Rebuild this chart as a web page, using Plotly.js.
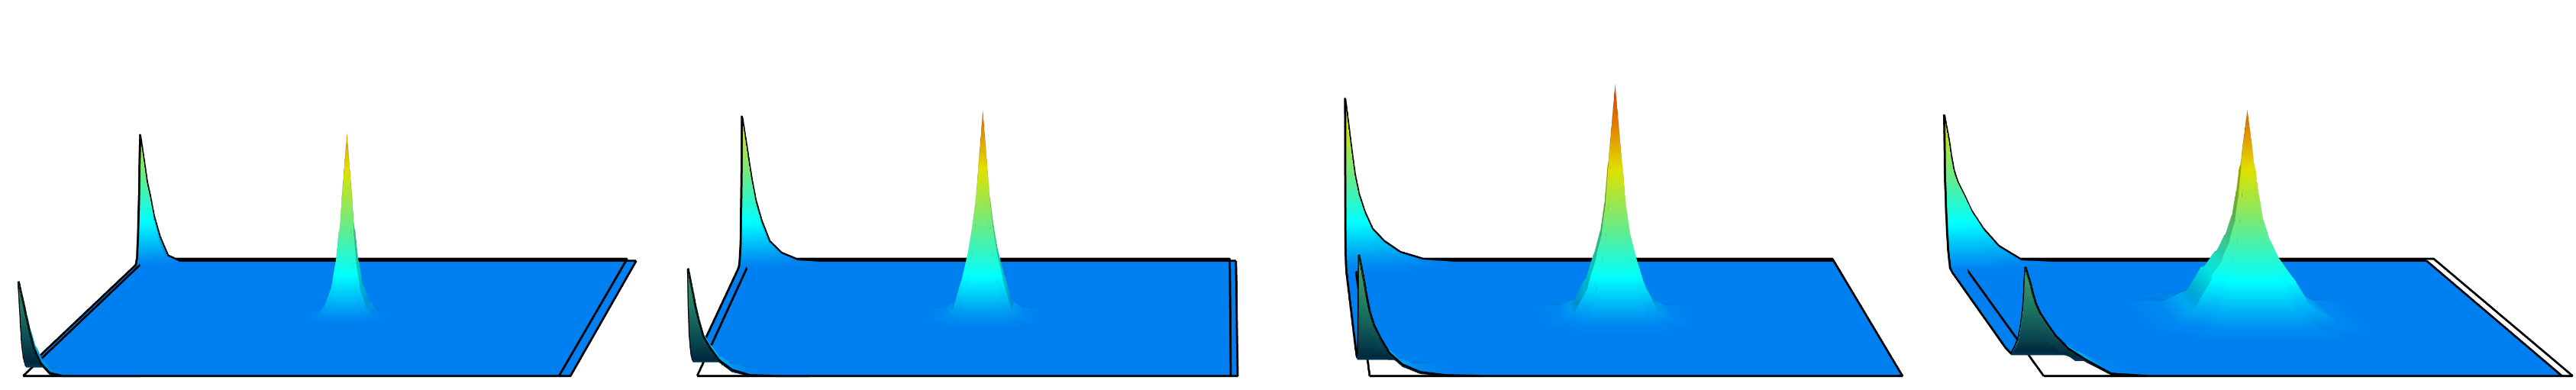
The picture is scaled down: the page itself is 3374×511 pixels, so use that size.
<!DOCTYPE html>
<html><head><meta charset="utf-8">
<script src="https://cdn.plot.ly/plotly-3.0.1.min.js"></script>
<style>html,body{margin:0;padding:0;background:#fff;overflow:hidden;width:3374px;height:511px}
#plot{position:absolute;left:-174px;top:-2511px;width:3548px;height:3022px}</style>
</head><body><div id="plot"></div><script>
// radial steps away from a peak, as a fraction of the sheet width
var steps = [0,.01,.014,.02,.028,.04,.056,.08,.113,.16,.226];
// heights at each step (px at the front plane)
var p1Center = [253,165,118,75,40,17,3,0,0,0,0];
var p1Back   = [184,135,115,95,65,35,8,0,0,0,0];
var p1Front  = [124,92,78,58,36,17,4,0,0,0,0];
var p2Center = [285,195,160,125,90,53,15,4,0,0,0];
var p2Back   = [211,165,145,118,88,58,29,12,2,0,0];
var p2Front  = [141,105,90,72,52,37,21,8,1,0,0];
var p3Center = [321,240,208,155,115,82,45,14,3,0,0];
var p3Back   = [237,180,157,126,98,72,47,29,13,3,0];
var p3Front  = [159,122,105,84,66,49,30,15,5,1,0];
var p4Center = [286,232,205,170,135,108,84,60,22,5,0];
var p4Back   = [213,175,155,132,115,98,74,48,22,2,0];
var p4Front  = [143,120,108,94,82,69,53,36,21,3,0];
// sheet left edge and width, outline left and right edge, middle peak position, per panel
var sheetLeft  = [24,901,1780,2653];
var sheetWidth = [723,720,712,703];
var frameLeft  = [30,913,1794,2677];
var frameRight = [732,1612,2492,3370];
var centerU    = [.506,.512,.512,.521];
var sheetDepth = 710;
var jetStops = [[0,'rgb(0,128,240)'],[.182,'rgb(0,255,255)'],[.394,'rgb(110,235,130)'],[.621,'rgb(225,225,0)'],[.818,'rgb(225,120,0)'],[1,'rgb(215,50,0)']];
var darkStops = [[0,'rgb(0,60,100)'],[.075,'rgb(0,40,60)'],[.25,'rgb(10,70,80)'],[.56,'rgb(30,120,100)'],[1,'rgb(80,170,110)']];

var panels = [[p1Center,p1Back,p1Front],[p2Center,p2Back,p2Front],[p3Center,p3Back,p3Front],[p4Center,p4Back,p4Front]];
var n = steps.length;
var vs = steps.slice();
for (var i=n-1;i>0;i--) vs.push(+(.5-steps[i]).toFixed(4));
for (var i=0;i<n;i++) vs.push(+(.5+steps[i]).toFixed(4));
for (var i=n-1;i>=0;i--) vs.push(+(1-steps[i]).toFixed(4));
var ys = vs.map(function(v){return v*sheetDepth;});
function gridU(c){
  var us = steps.slice();
  for (var i=n-1;i>0;i--) us.push(+(c-steps[i]).toFixed(4));
  for (var i=0;i<n;i++) us.push(+(c+steps[i]).toFixed(4));
  us.push(1);
  return us;
}
var nu = gridU(.5).length;

function ring(a,b){ return Math.max(a,b)+((a===b&&a>0)?1:0); }
function look(prof,a,b){ if(a<0||b<0) return 0; var k=ring(a,b); return k<prof.length?prof[k]:0; }
function buildZ(p){
  var z=[];
  for (var iy=0;iy<vs.length;iy++){
    var row=[];
    var vc = (iy>=n&&iy<n+2*n-2)? Math.abs(iy-(2*n-1)) : -1;
    var vf = iy<n?iy:-1;
    var vb = iy>=vs.length-n? vs.length-1-iy : -1;
    // the back corner falls off faster along the left edge
    if (vb>0) vb=vb+2;
    for (var ix=0;ix<nu;ix++){
      var uc = (ix>=n&&ix<n+2*n-2)? Math.abs(ix-(2*n-1)) : -1;
      var ue = ix<n?ix:-1;
      row.push(look(p[0],uc,vc)+look(p[1],ue,vb)+look(p[2],ue,vf));
    }
    z.push(row);
  }
  return z;
}
var look3d = {ambient:.68,diffuse:.65,specular:0,roughness:1,fresnel:0};
var light = {x:-30000,y:-50000,z:80000};
var traces=[];
panels.forEach(function(p,k){
  var z=buildZ(p);
  var us=gridU(centerU[k]);
  var xs=us.map(function(u){return sheetLeft[k]+u*sheetWidth[k];});
  traces.push({type:'surface',x:xs,y:ys,z:z,cmin:0,cmax:330,colorscale:jetStops,showscale:false,hoverinfo:'skip',lighting:look3d,lightposition:light});
  var xp=xs.slice(0,n), yp=ys.slice(0,n), zp=z.slice(0,n).map(function(r){return r.map(function(v){return v-Math.min(2,.3+v*.2);});});
  traces.push({type:'surface',x:xp,y:yp,z:zp,cmin:0,cmax:160,colorscale:darkStops,showscale:false,hoverinfo:'skip',lighting:{ambient:1,diffuse:0,specular:0,roughness:1,fresnel:0}});
  var ex=[],ey=[],ez=[],last=us.length-1,top=vs.length-1;
  for(var ix=0;ix<=last;ix++){ex.push(xs[ix]);ey.push(ys[0]);ez.push(z[0][ix]+1.2);}
  for(var iy=0;iy<=top;iy++){ex.push(xs[last]);ey.push(ys[iy]);ez.push(z[iy][last]+1.2);}
  for(var ix=last;ix>=0;ix--){ex.push(xs[ix]);ey.push(ys[top]);ez.push(z[top][ix]+1.2);}
  for(var iy=top;iy>=0;iy--){ex.push(xs[0]);ey.push(ys[iy]);ez.push(z[iy][0]+1.2);}
  traces.push({type:'scatter3d',mode:'lines',x:ex,y:ey,z:ez,line:{color:'#000',width:5},hoverinfo:'skip',showlegend:false});
  traces.push({type:'scatter3d',mode:'lines',
    x:[frameLeft[k],frameRight[k],frameRight[k],frameLeft[k],frameLeft[k]],
    y:[0,0,sheetDepth*1.02,sheetDepth*1.02,0],z:[1.2,1.2,1.2,1.2,1.2],line:{color:'#000',width:5},hoverinfo:'skip',showlegend:false});
});
var off={visible:false,showgrid:false,zeroline:false,showticklabels:false,showline:false,showbackground:false,showspikes:false};
var layout={width:3548,height:3022,autosize:false,margin:{l:0,r:0,t:0,b:0},paper_bgcolor:'#fff',showlegend:false,
 scene:{domain:{x:[0,1],y:[0,1]},aspectmode:'manual',aspectratio:{x:.9726,y:.1169,z:.16447},
  xaxis:Object.assign({},off,{range:[-174,3374],autorange:false}),
  yaxis:Object.assign({},off,{range:[-14.2,724.2],autorange:false}),
  zaxis:Object.assign({},off,{range:[-3,597],autorange:false}),
  camera:{eye:{x:0,y:-1.0562,z:.3281},center:{x:0,y:0,z:.3281},up:{x:0,y:0,z:1},projection:{type:'perspective'}}}};
Plotly.newPlot('plot',traces,layout,{displayModeBar:false});
</script></body></html>
